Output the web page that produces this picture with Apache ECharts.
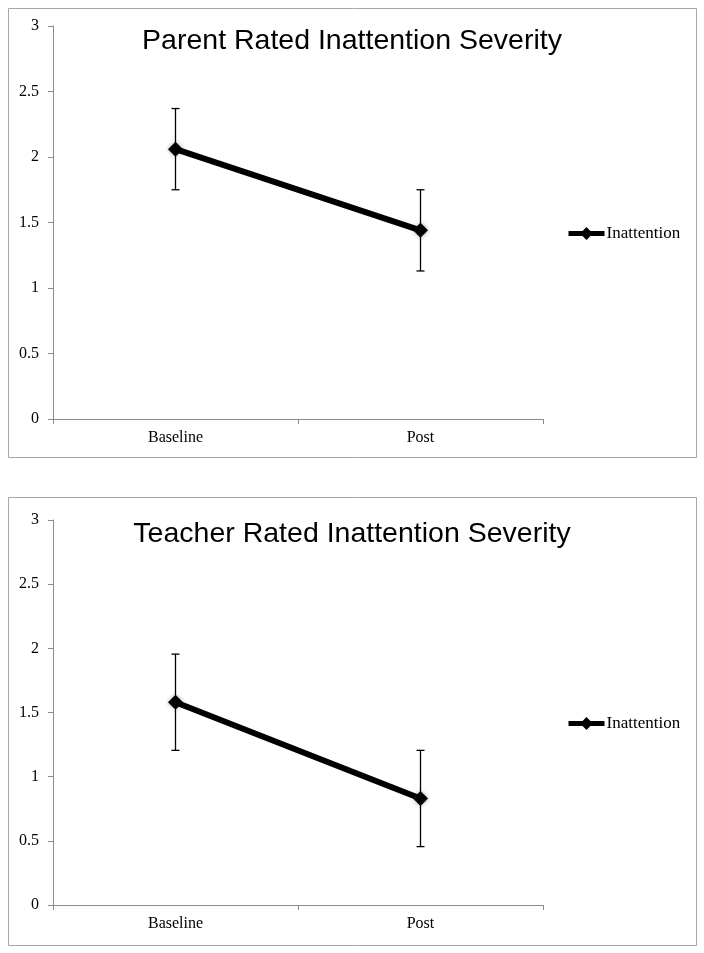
<!DOCTYPE html>
<html>
<head>
<meta charset="utf-8">
<script src="https://cdn.jsdelivr.net/npm/echarts@6/dist/echarts.min.js"></script>
<style>
html,body{margin:0;padding:0;background:#fff;}
#c{width:704px;height:953px;}
</style>
</head>
<body>
<div id="c"></div>
<script>
const categories = ['Baseline', 'Post'];
const parentValues = [2.06, 1.44];
const parentErrors = [0.31, 0.31];
const teacherValues = [1.58, 0.83];
const teacherErrors = [0.375, 0.375];
const yTicks = [0, 0.5, 1, 1.5, 2, 2.5, 3];
const titles = ['Parent Rated Inattention Severity', 'Teacher Rated Inattention Severity'];
const seriesName = 'Inattention';

const serif = '"Liberation Serif", "DejaVu Serif", serif';
const sans = '"Liberation Sans", Arial, sans-serif';

function errData(vals, errs) {
  return vals.map((v, i) => [i, v - errs[i], v + errs[i]]);
}
function errSeries(idx, vals, errs) {
  return {
    type: 'custom', xAxisIndex: idx, yAxisIndex: idx, z: 1,
    data: errData(vals, errs),
    renderItem: function (params, api) {
      const lo = api.coord([api.value(0), api.value(1)]);
      const hi = api.coord([api.value(0), api.value(2)]);
      const cw = 4;
      const st = { stroke: '#000', lineWidth: 1.3 };
      return {
        type: 'group',
        children: [
          { type: 'line', shape: { x1: hi[0], y1: hi[1], x2: lo[0], y2: lo[1] }, style: st },
          { type: 'line', shape: { x1: hi[0] - cw, y1: hi[1], x2: hi[0] + cw, y2: hi[1] }, style: st },
          { type: 'line', shape: { x1: lo[0] - cw, y1: lo[1], x2: lo[0] + cw, y2: lo[1] }, style: st }
        ]
      };
    },
    silent: true
  };
}
function lineSeries(idx, vals) {
  return {
    name: seriesName, type: 'line', xAxisIndex: idx, yAxisIndex: idx, z: 3,
    data: vals,
    symbol: 'diamond', symbolSize: 15,
    lineStyle: { color: '#000', width: 6 },
    itemStyle: { color: '#000', shadowBlur: 4, shadowColor: 'rgba(0,0,0,0.35)' },
    animation: false
  };
}
function xAxis(idx) {
  return {
    type: 'category', gridIndex: idx, data: categories, boundaryGap: true,
    axisLine: { lineStyle: { color: '#8c8c8c', width: 1 } },
    axisTick: { show: true, length: 5, lineStyle: { color: '#8c8c8c' } },
    axisLabel: { color: '#000', fontFamily: serif, fontSize: 16, margin: 11 }
  };
}
function yAxis(idx) {
  return {
    type: 'value', gridIndex: idx, min: yTicks[0], max: yTicks[yTicks.length - 1], interval: 0.5,
    axisLine: { show: true, lineStyle: { color: '#8c8c8c', width: 1 } },
    axisTick: { show: true, length: 5, lineStyle: { color: '#8c8c8c' } },
    splitLine: { show: false },
    axisLabel: { color: '#000', fontFamily: serif, fontSize: 16, margin: 14 }
  };
}
function legend(top) {
  return {
    data: [seriesName], left: 561, top: top, itemWidth: 36, itemHeight: 16, itemGap: 0,
    lineStyle: { width: 5, color: '#000' },
    itemStyle: { color: '#000' },
    textStyle: { fontFamily: serif, fontSize: 17, color: '#000', padding: [0, 0, 0, -3] }
  };
}

const chart = echarts.init(document.getElementById('c'), null, { renderer: 'canvas' });
chart.setOption({
  backgroundColor: '#fff',
  animation: false,
  title: [
    { text: titles[0], left: 347, top: 22, textAlign: 'center', textStyle: { fontFamily: sans, fontSize: 28.5, fontWeight: 'normal', color: '#000' } },
    { text: titles[1], left: 347, top: 515, textAlign: 'center', textStyle: { fontFamily: sans, fontSize: 28.5, fontWeight: 'normal', color: '#000' } }
  ],
  legend: [legend(220), legend(710)],
  grid: [
    { left: 53, top: 26, width: 490, height: 393 },
    { left: 53, top: 520, width: 490, height: 385 }
  ],
  xAxis: [xAxis(0), xAxis(1)],
  yAxis: [yAxis(0), yAxis(1)],
  graphic: [
    { type: 'rect', shape: { x: 8.5, y: 8.5, width: 688, height: 449 }, style: { fill: 'none', stroke: '#a6a6a6', lineWidth: 1 }, silent: true },
    { type: 'rect', shape: { x: 8.5, y: 497.5, width: 688, height: 448 }, style: { fill: 'none', stroke: '#a6a6a6', lineWidth: 1 }, silent: true }
  ],
  series: [
    errSeries(0, parentValues, parentErrors),
    lineSeries(0, parentValues),
    errSeries(1, teacherValues, teacherErrors),
    lineSeries(1, teacherValues)
  ]
});
</script>
</body>
</html>
